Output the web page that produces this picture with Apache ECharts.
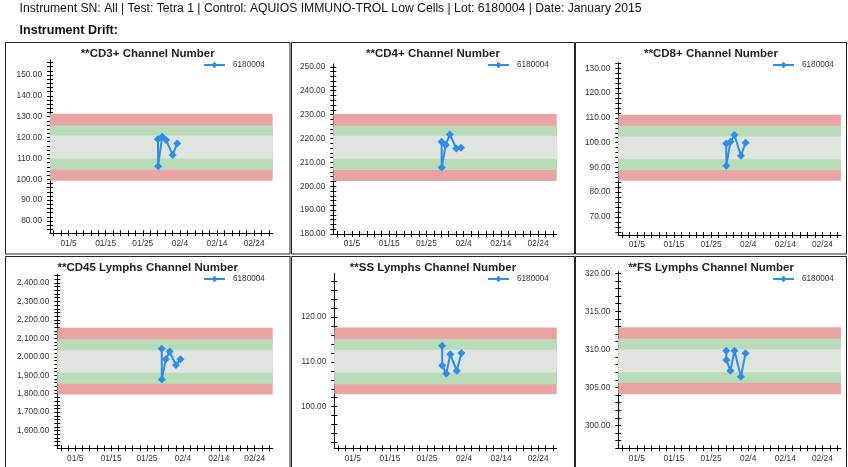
<!DOCTYPE html>
<html>
<head>
<meta charset="utf-8">
<script src="https://cdn.jsdelivr.net/npm/echarts@6/dist/echarts.min.js"></script>
<style>
  html, body { margin: 0; padding: 0; background: #fff; }
  #chart { width: 848px; height: 467px; }
</style>
</head>
<body>
<div id="chart"></div>
<script>
// ---- report header ----
const headerLine = 'Instrument SN: All | Test: Tetra 1 | Control: AQUIOS IMMUNO-TROL Low Cells | Lot: 6180004 | Date: January 2015';
const sectionTitle = 'Instrument Drift:';
const lotName = '6180004';

// ---- QC runs shared by every channel panel ----
const runTimes = ['2015-01-29 02:00', '2015-01-29 03:00', '2015-01-30 05:00', '2015-01-31 07:00', '2015-02-02 01:00', '2015-02-03 07:00'];

const panelTitles = [
  '**CD3+ Channel Number', '**CD4+ Channel Number', '**CD8+ Channel Number',
  '**CD45 Lymphs Channel Number', '**SS Lymphs Channel Number', '**FS Lymphs Channel Number'
];

// channel numbers per run
const cd3Values  = [119.2, 106.2, 120.4, 118.8, 111.7, 117.2];
const cd4Values  = [218.6, 207.9, 217.3, 221.7, 215.8, 216.1];
const cd8Values  = [99.7, 90.7, 100.4, 103.1, 94.7, 100.0];
const cd45Values = [2043, 1877, 1987, 2028, 1955, 1986];
const ssValues   = [113.6, 109.2, 107.4, 111.7, 108.0, 112.0];
const fsValues   = [309.8, 308.6, 307.2, 309.8, 306.4, 309.5];

// control limits [low, high]: 3SD, 2SD, 1SD
const cd3Limits  = [[99.3, 131.4], [104.6, 125.8], [110.0, 121.0]];
const cd4Limits  = [[202.2, 230.3], [206.8, 225.3], [211.4, 221.2]];
const cd8Limits  = [[84.6, 111.3], [88.9, 106.8], [93.3, 102.5]];
const cd45Limits = [[1795, 2158], [1854, 2095], [1913, 2036]];
const ssLimits   = [[102.8, 117.7], [105.0, 115.1], [107.6, 112.7]];
const fsLimits   = [[304.1, 312.9], [305.6, 311.4], [307.0, 310.0]];

// y-axis [min, max, label step]
const cd3Range  = [74.1, 157.2, 10];
const cd4Range  = [180, 251.2, 10];
const cd8Range  = [62.7, 132.3, 10];
const cd45Range = [1504, 2447, 100];
const ssRange   = [90.7, 129.8, 10];
const fsRange   = [297.0, 320.2, 5];

// x-axis dates
const xStart = '2014-12-31';
const xEnd = '2015-03-01';
const xLabelDates = ['2015-01-05', '2015-01-15', '2015-01-25', '2015-02-04', '2015-02-14', '2015-02-24'];

// ---- helpers ----
const DAY = 86400000;
const ORIGIN = Date.UTC(2015, 0, 1);
function dayIndex(s) {
  const parts = s.split(' ');
  const d = parts[0].split('-').map(Number);
  const t = (parts[1] || '00:00').split(':').map(Number);
  return (Date.UTC(d[0], d[1] - 1, d[2], t[0], t[1]) - ORIGIN) / DAY;
}
function dayLabel(v) {
  const dt = new Date(ORIGIN + Math.round(v) * DAY);
  return String(dt.getUTCMonth() + 1).padStart(2, '0') + '/' + dt.getUTCDate();
}
function numLabel(v) {
  return Number(v).toLocaleString('en-US', { minimumFractionDigits: 2, maximumFractionDigits: 2 });
}
function stepsWithin(min, max, step) {
  const out = [];
  const start = Math.ceil(min / step - 1e-9);
  for (let k = start; k * step <= max + 1e-9; k++) out.push(+(k * step).toFixed(6));
  return out;
}

const panels = [
  { title: panelTitles[0], values: cd3Values,  limits: cd3Limits,  range: cd3Range },
  { title: panelTitles[1], values: cd4Values,  limits: cd4Limits,  range: cd4Range },
  { title: panelTitles[2], values: cd8Values,  limits: cd8Limits,  range: cd8Range },
  { title: panelTitles[3], values: cd45Values, limits: cd45Limits, range: cd45Range },
  { title: panelTitles[4], values: ssValues,   limits: ssLimits,   range: ssRange },
  { title: panelTitles[5], values: fsValues,   limits: fsLimits,   range: fsRange }
];

// ---- layout (px) ----
const plotRects = [
  [50, 60, 272.7, 233.3], [333.3, 64, 556.7, 234], [618.3, 62.7, 841, 235],
  [57.3, 274.3, 272.7, 448.3], [334.3, 273.3, 556.7, 448.3], [618.3, 271.7, 841, 448.3]
];
const frames = [
  [5.5, 42.5, 284.5, 211.5], [291.5, 42.5, 283, 211.5], [575.5, 42.5, 271, 211.5],
  [5.5, 256.5, 284.5, 215], [291.5, 256.5, 283, 215], [575.5, 256.5, 271, 215]
];
const titleY = [54, 54, 54, 267.5, 267.5, 267.5];
const legendPos = [[203, 61], [487, 61], [772, 61], [203, 275], [487, 275], [772, 275]];

const bandColors = ['#e9a3a3', '#b8dcb8', '#dfe4df'];
const lineColor = '#2b8def';
const labelFont = 'Liberation Sans, Arial, sans-serif';

const xMin = dayIndex(xStart), xMax = dayIndex(xEnd);
const xLabelVals = xLabelDates.map(dayIndex);
const xTickVals = stepsWithin(xMin, xMax, 2);

const grid = [], xAxis = [], yAxis = [], series = [], legend = [], graphic = [];

panels.forEach((p, i) => {
  const [l, t, r, b] = plotRects[i];
  const [ymin, ymax, ystep] = p.range;
  const yLabelVals = stepsWithin(ymin, ymax, ystep);
  const yTickVals = stepsWithin(ymin, ymax, ystep / 5);
  const box = { left: l, top: t, width: r - l, height: b - t };

  // two grids on the same rectangle: ticks drawn outside and inside so they cross the axis line
  [false, true].forEach((inner) => {
    const gi = grid.length;
    grid.push(Object.assign({}, box));
    xAxis.push({
      type: 'value', gridIndex: gi, min: xMin, max: xMax, position: 'bottom',
      splitLine: { show: false },
      axisLine: { show: !inner, onZero: false, lineStyle: { color: '#000', width: 1 } },
      axisTick: { show: true, inside: inner, length: 3, customValues: xTickVals, lineStyle: { color: '#000' } },
      axisLabel: inner ? { show: false } : {
        customValues: xLabelVals, formatter: dayLabel, margin: 6,
        fontSize: 8.4, color: '#333', fontFamily: labelFont
      }
    });
    yAxis.push({
      type: 'value', gridIndex: gi, min: ymin, max: ymax, position: 'left',
      splitLine: { show: false },
      axisLine: { show: !inner, onZero: false, lineStyle: { color: '#000', width: 1 } },
      axisTick: { show: true, inside: inner, length: 3, customValues: yTickVals, lineStyle: { color: '#000' } },
      axisLabel: inner ? { show: false } : {
        customValues: yLabelVals, formatter: numLabel, margin: 8,
        fontSize: 8.3, color: '#333', fontFamily: labelFont
      }
    });
  });

  const axisIdx = i * 2;
  series.push({
    name: lotName,
    type: 'line',
    xAxisIndex: axisIdx,
    yAxisIndex: axisIdx,
    data: runTimes.map((tm, k) => [dayIndex(tm), p.values[k]]),
    symbol: 'diamond',
    symbolSize: 8,
    color: lineColor,
    lineStyle: { color: lineColor, width: 2 },
    itemStyle: { color: lineColor },
    animation: false,
    markArea: {
      silent: true,
      data: p.limits.map((lim, k) => [
        { yAxis: lim[0], itemStyle: { color: bandColors[k], opacity: 1 } },
        { yAxis: lim[1] }
      ])
    }
  });

  legend.push({
    left: legendPos[i][0], top: legendPos[i][1],
    data: [lotName], selectedMode: false,
    itemWidth: 21, itemHeight: 8, padding: 0,
    textStyle: { fontSize: 8.2, color: '#333', fontFamily: labelFont, padding: [0, 0, 0, 3] }
  });

  const [fx, fy, fw, fh] = frames[i];
  graphic.push({
    type: 'rect', silent: true,
    shape: { x: fx, y: fy, width: fw, height: fh },
    style: { fill: null, stroke: '#222', lineWidth: 1 }
  });
  graphic.push({
    type: 'text', silent: true,
    x: fx + fw / 2, y: titleY[i],
    style: {
      text: p.title, fill: '#222',
      font: 'bold 11.5px ' + labelFont,
      textAlign: 'center', textVerticalAlign: 'middle'
    }
  });
});

// header lines, condensed to the report's narrow type
const measureCtx = document.createElement('canvas').getContext('2d');
function fitScale(text, font, width) {
  measureCtx.font = font;
  return width / measureCtx.measureText(text).width;
}
const headerFont = '12px ' + labelFont;
const sectionFont = 'bold 12px ' + labelFont;
graphic.push({
  type: 'text', silent: true, x: 19.5, y: 9,
  scaleX: fitScale(headerLine, headerFont, 622),
  style: { text: headerLine, font: headerFont, fill: '#111', textAlign: 'left', textVerticalAlign: 'middle' }
});
graphic.push({
  type: 'text', silent: true, x: 19.5, y: 30.5,
  scaleX: fitScale(sectionTitle, sectionFont, 98.5),
  style: { text: sectionTitle, font: sectionFont, fill: '#111', textAlign: 'left', textVerticalAlign: 'middle' }
});

const chart = echarts.init(document.getElementById('chart'), null, { renderer: 'canvas' });
chart.setOption({
  backgroundColor: '#fff',
  animation: false,
  grid, xAxis, yAxis, series, legend, graphic
});
</script>
</body>
</html>
